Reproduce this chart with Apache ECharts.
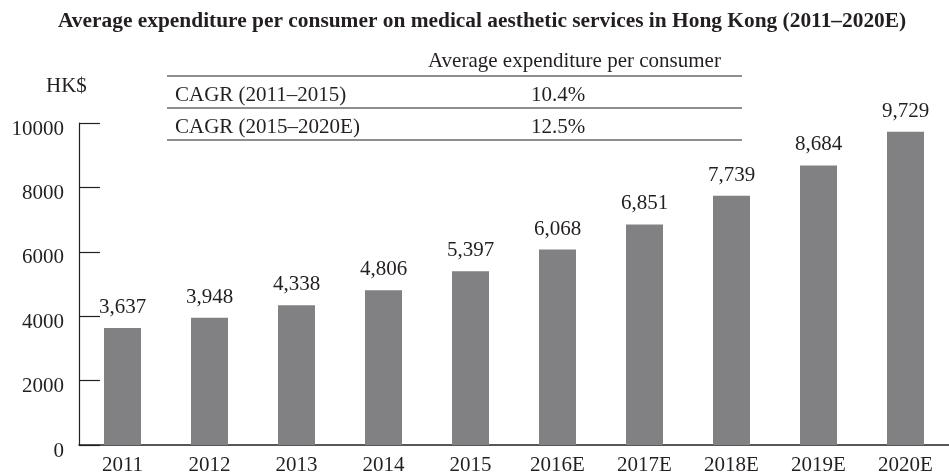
<!DOCTYPE html>
<html>
<head>
<meta charset="utf-8">
<script src="https://cdn.jsdelivr.net/npm/echarts@6/dist/echarts.min.js"></script>
<style>
  html, body { margin: 0; padding: 0; background: #fff; }
  #main { width: 949px; height: 476px; }
</style>
</head>
<body>
<div id="main"></div>
<script>
"use strict";

// chart data
const years = ['2011', '2012', '2013', '2014', '2015', '2016E', '2017E', '2018E', '2019E', '2020E'];
const spend = [3637, 3948, 4338, 4806, 5397, 6068, 6851, 7739, 8684, 9729];
const yTicks = [0, 2000, 4000, 6000, 8000, 10000];

// CAGR table
const tableHeader = 'Average expenditure per consumer';
const cagrLabels = ['CAGR (2011\u20132015)', 'CAGR (2015\u20132020E)'];
const cagrValues = ['10.4%', '12.5%'];

const font = '"Liberation Serif", "Times New Roman", serif';
const ink = '#231f20';

let myChart = echarts.init(document.getElementById('main'));

// table drawn as graphic elements
let tableGraphics = [
    { type: 'text', x: 428, y: 61, style: { text: tableHeader, font: '21px ' + font, fill: ink, verticalAlign: 'middle' } },
    { type: 'line', shape: { x1: 167, y1: 76, x2: 742, y2: 76 }, style: { stroke: ink, lineWidth: 1.2 } }
];
cagrLabels.forEach(function (label, i) {
    let y = 76 + i * 32;
    tableGraphics.push({ type: 'text', x: 175, y: y + 19, style: { text: label, font: '21px ' + font, fill: ink, verticalAlign: 'middle' } });
    tableGraphics.push({ type: 'text', x: 558, y: y + 19, style: { text: cagrValues[i], font: '21px ' + font, fill: ink, align: 'center', verticalAlign: 'middle' } });
    tableGraphics.push({ type: 'line', shape: { x1: 167, y1: y + 32, x2: 742, y2: y + 32 }, style: { stroke: ink, lineWidth: 1.2 } });
});
tableGraphics.push({ type: 'text', x: 46, y: 86, style: { text: 'HK$', font: '21px ' + font, fill: ink, verticalAlign: 'middle' } });

let option = {
    backgroundColor: '#fff',
    animation: false,
    textStyle: { fontFamily: font, color: ink },
    title: {
        text: 'Average expenditure per consumer on medical aesthetic services in Hong Kong (2011\u20132020E)',
        left: 53,
        top: 6,
        textStyle: { fontFamily: font, fontWeight: 'bold', fontSize: 21.4, color: ink }
    },
    grid: { left: 79, top: 123, width: 880, bottom: 28, containLabel: false },
    xAxis: {
        type: 'category',
        data: years,
        axisLine: { lineStyle: { color: ink, width: 1.5 } },
        axisTick: { inside: true, length: 8, lineStyle: { color: ink, width: 1.2 } },
        axisLabel: { fontFamily: font, fontSize: 21, color: ink, margin: 10 }
    },
    yAxis: {
        type: 'value',
        min: yTicks[0],
        max: yTicks[yTicks.length - 1],
        interval: yTicks[1] - yTicks[0],
        splitLine: { show: false },
        axisLine: { show: true, lineStyle: { color: ink, width: 1.2 } },
        axisTick: { show: true, inside: true, length: 21, lineStyle: { color: ink, width: 1.2 } },
        axisLabel: {
            fontFamily: font, fontSize: 21, color: ink, margin: 15,
            formatter: function (v) { return '{t|' + v + '}'; },
            rich: { t: { fontFamily: font, fontSize: 21, color: ink, padding: [12, 0, 0, 0] } }
        }
    },
    series: [{
        type: 'bar',
        data: spend,
        barWidth: 37,
        itemStyle: { color: '#818184' },
        label: {
            show: true,
            position: 'top',
            distance: 10,
            fontFamily: font,
            fontSize: 21,
            color: ink,
            formatter: function (p) {
                return p.value.toLocaleString('en-US');
            }
        }
    }],
    graphic: tableGraphics
};

myChart.setOption(option);

window.addEventListener('resize', function () {
    myChart.resize();
});
</script>
</body>
</html>
